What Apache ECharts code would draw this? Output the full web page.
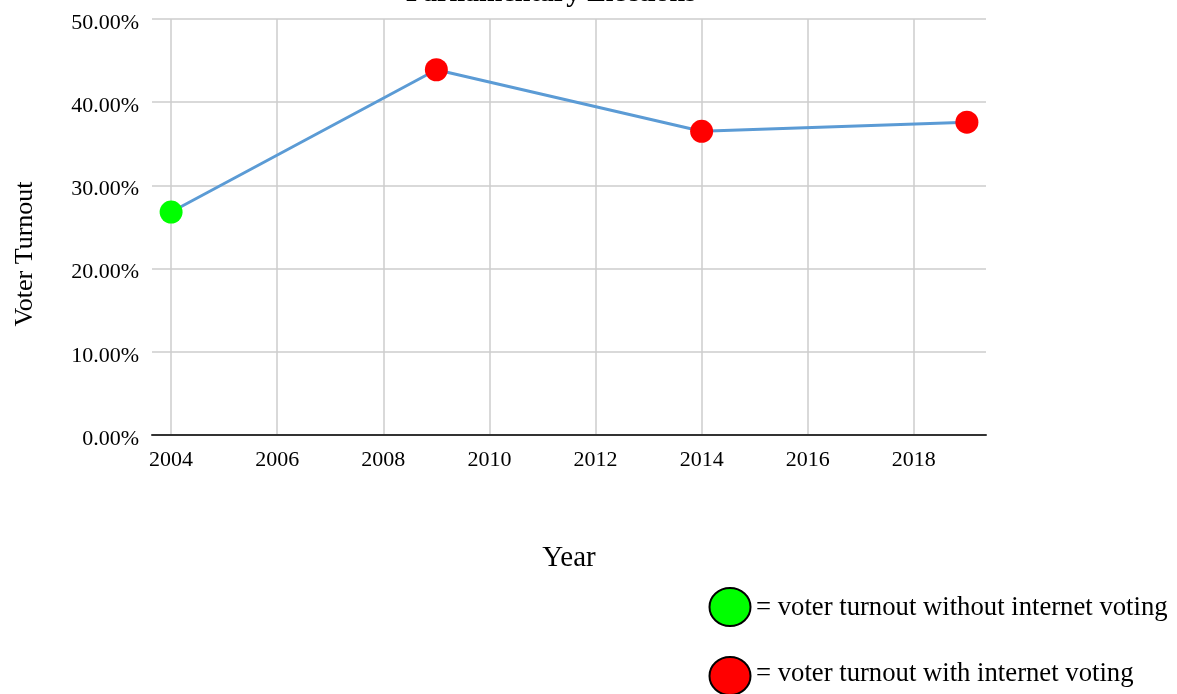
<!DOCTYPE html>
<html>
<head>
<meta charset="utf-8">
<script src="https://cdn.jsdelivr.net/npm/echarts@6/dist/echarts.min.js"></script>
<style>
html,body{margin:0;padding:0;background:#fff;}
#chart{width:1177px;height:694px;}
</style>
</head>
<body>
<div id="chart"></div>
<script>
var years = [2004, 2009, 2014, 2019];
var turnout = [26.8, 43.9, 36.5, 37.6];
var internetVoting = [false, true, true, true];
var xTicks = [2004, 2006, 2008, 2010, 2012, 2014, 2016, 2018];
var yTicks = [0, 10, 20, 30, 40, 50];
var titleText = 'Parliamentary Elections';
var xTitle = 'Year';
var yTitle = 'Voter Turnout';
var legendWithout = '= voter turnout without internet voting';
var legendWith = '= voter turnout with internet voting';

var FONT = '"Liberation Serif", "Times New Roman", serif';
var GREEN = '#00ff00', RED = '#ff0000';

var chart = echarts.init(document.getElementById('chart'), null, {renderer: 'canvas'});
var data = years.map(function (y, i) {
  return {value: [y, turnout[i]], itemStyle: {color: internetVoting[i] ? RED : GREEN}};
});

chart.setOption({
  animation: false,
  backgroundColor: '#ffffff',
  grid: {left: 152, right: 191, top: 19, bottom: 259, containLabel: false},
  xAxis: {
    type: 'value',
    min: 2003.64, max: 2019.36,
    name: xTitle, nameLocation: 'middle', nameGap: 109,
    nameTextStyle: {fontFamily: FONT, fontSize: 29, color: '#000'},
    axisLine: {show: true, lineStyle: {color: '#333', width: 2}},
    axisTick: {show: false, customValues: xTicks},
    axisLabel: {customValues: xTicks, fontFamily: FONT, fontSize: 22, color: '#000', margin: 14,
      formatter: function (v) { return String(Math.round(v)); }},
    splitLine: {show: true, lineStyle: {color: '#cccccc', width: 1.5}}
  },
  yAxis: {
    type: 'value',
    min: yTicks[0], max: yTicks[yTicks.length - 1], interval: 10,
    axisLine: {show: false},
    axisTick: {show: false},
    axisLabel: {fontFamily: FONT, fontSize: 22, color: '#000', margin: 13,
      formatter: function (v) { return '{a|' + v.toFixed(2) + '%}'; },
      rich: {a: {fontFamily: FONT, fontSize: 22, color: '#000', padding: [8, 0, 0, 0]}}},
    splitLine: {show: true, lineStyle: {color: '#cccccc', width: 1.5}}
  },
  series: [{
    type: 'line',
    data: data,
    symbol: 'circle',
    symbolSize: 23,
    lineStyle: {color: '#5b9bd5', width: 3},
    z: 3
  }],
  graphic: [
    {type: 'text', x: 551, y: -6.5,
      style: {text: titleText, font: 'bold 28px ' + FONT, fill: '#000', textAlign: 'center', textVerticalAlign: 'middle'}},
    {type: 'text', x: 25, y: 254, rotation: Math.PI / 2,
      style: {text: yTitle, font: '26px ' + FONT, fill: '#000', textAlign: 'center', textVerticalAlign: 'middle'}},
    {type: 'ellipse', shape: {cx: 730, cy: 607, rx: 20.5, ry: 19},
      style: {fill: GREEN, stroke: '#000', lineWidth: 2}},
    {type: 'text', x: 756, y: 608,
      style: {text: legendWithout, font: '26.7px ' + FONT, fill: '#000', textVerticalAlign: 'middle'}},
    {type: 'ellipse', shape: {cx: 730, cy: 676, rx: 20.5, ry: 19},
      style: {fill: RED, stroke: '#000', lineWidth: 2}},
    {type: 'text', x: 756, y: 674,
      style: {text: legendWith, font: '26.7px ' + FONT, fill: '#000', textVerticalAlign: 'middle'}}
  ]
});
</script>
</body>
</html>
